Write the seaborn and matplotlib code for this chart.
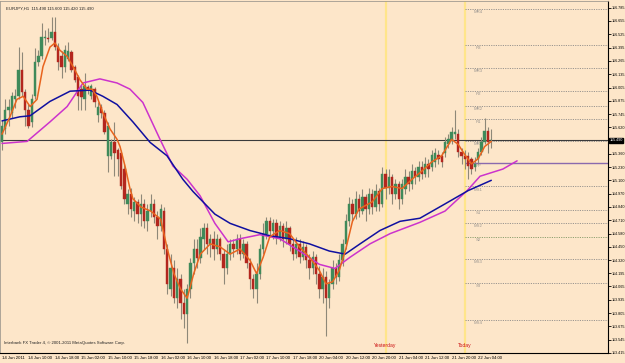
import numpy as np
import pandas as pd
import matplotlib
matplotlib.use('Agg')
import matplotlib.pyplot as plt
import matplotlib.transforms as mtransforms
import seaborn as sns

# EURJPY H1 candles
opens = [115.47, 115.60, 115.79, 115.76, 115.89, 115.92, 116.18, 115.96, 115.79, 115.67,
         115.92, 116.25, 116.31, 116.49, 116.49, 116.49, 116.55, 116.40, 116.31, 116.21,
         116.28, 116.35, 116.21, 116.11, 115.99, 115.89, 116.01, 115.92, 115.99, 115.74,
         115.82, 115.76, 115.34, 115.34, 115.47, 115.40, 115.37, 115.21, 114.87, 114.97,
         114.80, 114.89, 114.77, 114.87, 114.70, 114.80, 114.87, 114.74, 114.65, 114.80,
         114.43, 114.04, 114.24, 113.95, 114.14, 113.90, 113.80, 114.04, 114.29, 114.43,
         114.34, 114.53, 114.63, 114.48, 114.53, 114.43, 114.53, 114.38, 114.24, 114.38,
         114.48, 114.43, 114.53, 114.38, 114.48, 114.29, 114.14, 114.04, 114.19, 114.43,
         114.58, 114.70, 114.61, 114.68, 114.55, 114.65, 114.53, 114.63, 114.48, 114.38,
         114.48, 114.35, 114.45, 114.32, 114.24, 114.35, 114.19, 114.04, 114.16, 113.95,
         114.09, 114.24, 114.16, 114.32, 114.48, 114.70, 114.87, 114.77, 114.92, 114.80,
         114.94, 114.82, 114.97, 114.84, 115.00, 114.87, 115.16, 115.03, 115.13, 114.97,
         115.06, 114.92, 115.02, 115.13, 115.06, 115.19, 115.13, 115.23, 115.16, 115.26,
         115.23, 115.28, 115.35, 115.34, 115.37, 115.45, 115.48, 115.55, 115.55, 115.38,
         115.34, 115.34, 115.31, 115.23, 115.31, 115.38, 115.47, 115.58, 115.49]
closes = [115.63, 115.79, 115.82, 115.92, 115.92, 116.18, 115.96, 115.79, 115.63, 115.89,
          116.25, 116.31, 116.50, 116.50, 116.48, 116.55, 116.40, 116.25, 116.21, 116.37,
          116.36, 116.18, 116.08, 115.92, 115.91, 116.02, 115.99, 116.02, 115.86, 115.82,
          115.76, 115.57, 115.63, 115.47, 115.37, 115.31, 115.04, 114.92, 114.97, 114.82,
          114.89, 114.77, 114.87, 114.70, 114.80, 114.87, 114.74, 114.65, 114.82, 114.43,
          114.09, 114.24, 113.95, 114.14, 113.90, 113.80, 114.04, 114.29, 114.43, 114.34,
          114.55, 114.63, 114.48, 114.53, 114.43, 114.53, 114.38, 114.24, 114.38, 114.48,
          114.43, 114.53, 114.38, 114.48, 114.29, 114.14, 114.04, 114.19, 114.43, 114.58,
          114.70, 114.61, 114.68, 114.55, 114.65, 114.53, 114.63, 114.48, 114.38, 114.48,
          114.35, 114.45, 114.32, 114.24, 114.35, 114.19, 114.04, 114.16, 113.95, 114.09,
          114.24, 114.16, 114.32, 114.48, 114.70, 114.87, 114.77, 114.92, 114.80, 114.94,
          114.82, 114.97, 114.84, 115.00, 114.87, 115.16, 115.03, 115.13, 114.97, 115.06,
          114.92, 115.06, 115.13, 115.06, 115.19, 115.13, 115.23, 115.16, 115.26, 115.21,
          115.35, 115.37, 115.31, 115.28, 115.47, 115.50, 115.57, 115.57, 115.38, 115.34,
          115.31, 115.24, 115.21, 115.26, 115.38, 115.47, 115.58, 115.47, 115.49]
highs = [115.69, 115.89, 115.89, 115.96, 115.99, 116.40, 116.35, 115.99, 115.84, 115.94,
         116.39, 116.37, 116.64, 116.57, 116.59, 116.69, 116.69, 116.44, 116.36, 116.42,
         116.45, 116.37, 116.23, 116.13, 116.03, 116.15, 116.03, 116.04, 116.01, 115.86,
         115.84, 115.79, 115.67, 115.50, 115.67, 115.42, 115.40, 115.26, 115.02, 115.03,
         114.94, 114.92, 114.97, 114.92, 114.87, 114.97, 114.92, 114.80, 114.87, 114.84,
         114.48, 114.38, 114.32, 114.24, 114.19, 114.04, 114.09, 114.34, 114.53, 114.53,
         114.63, 114.68, 114.68, 114.58, 114.61, 114.58, 114.55, 114.43, 114.48, 114.53,
         114.53, 114.58, 114.58, 114.53, 114.51, 114.34, 114.19, 114.29, 114.48, 114.68,
         114.74, 114.74, 114.72, 114.72, 114.70, 114.68, 114.70, 114.65, 114.53, 114.55,
         114.53, 114.51, 114.48, 114.38, 114.41, 114.38, 114.26, 114.24, 114.22, 114.14,
         114.32, 114.29, 114.38, 114.53, 114.77, 114.94, 114.92, 115.00, 114.97, 115.02,
         114.97, 115.03, 115.02, 115.06, 115.03, 115.23, 115.21, 115.21, 115.16, 115.11,
         115.09, 115.11, 115.21, 115.19, 115.26, 115.23, 115.29, 115.29, 115.33, 115.31,
         115.40, 115.42, 115.40, 115.38, 115.52, 115.55, 115.62, 115.79, 115.60, 115.42,
         115.40, 115.38, 115.33, 115.33, 115.42, 115.52, 115.71, 115.62, 115.60]
lows = [115.40, 115.55, 115.63, 115.71, 115.81, 115.89, 115.92, 115.63, 115.61, 115.62,
        115.89, 116.22, 116.28, 116.42, 116.45, 116.47, 116.37, 116.18, 116.10, 116.16,
        116.26, 116.16, 116.06, 115.79, 115.79, 115.79, 115.94, 115.89, 115.82, 115.67,
        115.71, 115.55, 115.18, 115.31, 115.14, 115.14, 115.02, 114.87, 114.77, 114.74,
        114.70, 114.68, 114.65, 114.63, 114.61, 114.74, 114.68, 114.53, 114.61, 114.38,
        113.99, 113.97, 113.90, 113.85, 113.75, 113.66, 113.51, 113.95, 114.19, 114.24,
        114.29, 114.43, 114.38, 114.35, 114.32, 114.38, 114.32, 114.09, 114.19, 114.32,
        114.35, 114.38, 114.32, 114.34, 114.24, 114.04, 113.95, 113.90, 114.14, 114.38,
        114.53, 114.55, 114.53, 114.48, 114.51, 114.45, 114.48, 114.41, 114.32, 114.34,
        114.29, 114.32, 114.24, 114.14, 114.19, 114.09, 113.95, 113.90, 113.58, 113.85,
        114.04, 114.09, 114.12, 114.26, 114.43, 114.65, 114.70, 114.72, 114.74, 114.77,
        114.70, 114.77, 114.77, 114.80, 114.80, 114.84, 114.92, 114.97, 114.87, 114.92,
        114.82, 114.87, 114.97, 115.00, 115.02, 115.06, 115.09, 115.11, 115.13, 115.13,
        115.19, 115.23, 115.26, 115.23, 115.33, 115.42, 115.45, 115.50, 115.33, 115.26,
        115.21, 115.11, 115.16, 115.19, 115.26, 115.35, 115.45, 115.37, 115.42]

# moving averages (bar index, price)
ma_fast_x = [0, 2.4, 4.5, 6.4, 8.5, 10.6, 11.5, 12.4, 14.5, 16, 17.5, 19.7, 21.5, 23.6, 25.7,
             27.2, 28.7, 30.5, 32.7, 34.8, 35.7, 37.2, 38.7, 39.6, 42, 45, 48, 50, 52, 54,
             56, 58, 60, 63, 66, 69, 72, 75, 77, 79, 81, 84, 87, 90, 93, 96, 98, 100, 102,
             104, 106, 108, 112, 115, 118, 121, 124, 127, 130, 133, 136, 138, 140, 142, 144,
             146, 148]
ma_fast_y = [115.55, 115.72, 115.89, 115.92, 115.82, 115.89, 116.05, 116.21, 116.40, 116.44,
             116.37, 116.31, 116.21, 116.08, 115.99, 115.99, 115.92, 115.76, 115.60, 115.50,
             115.43, 115.24, 115.02, 114.92, 114.84, 114.80, 114.72, 114.43, 114.19, 114.04,
             113.95, 114.19, 114.38, 114.48, 114.45, 114.38, 114.43, 114.32, 114.19, 114.35,
             114.55, 114.61, 114.58, 114.45, 114.35, 114.22, 114.09, 114.11, 114.22, 114.43,
             114.70, 114.82, 114.89, 115.02, 115.04, 115.02, 115.11, 115.19, 115.28, 115.34,
             115.50, 115.45, 115.35, 115.26, 115.31, 115.43, 115.48]
ma_mid_x = [0, 5.4, 8.5, 14.5, 20.6, 26.6, 30.5, 34.8, 39.6, 44.8, 49.9, 54.7, 57.8, 64.4,
            69, 75, 81, 87, 93, 99, 103.8, 108.3, 114.3, 120.4, 126.4, 134, 141, 148]
ma_mid_y = [115.68, 115.72, 115.73, 115.87, 115.97, 115.98, 115.92, 115.84, 115.67, 115.47,
            115.34, 115.11, 114.99, 114.77, 114.68, 114.61, 114.56, 114.53, 114.48, 114.41,
            114.38, 114.48, 114.61, 114.70, 114.73, 114.87, 115.00, 115.10]
ma_slow_x = [0, 7.6, 14.5, 19.7, 24.5, 29.6, 34.8, 38.7, 42.6, 47.8, 51.7, 56, 59.9, 64.4,
             68.4, 72, 78, 84, 90, 96, 100.7, 105.3, 111.3, 117.4, 126.4, 134, 140.7, 144.6,
             151.5, 155.8]
ma_slow_y = [115.46, 115.48, 115.67, 115.82, 116.05, 116.09, 116.05, 115.99, 115.86, 115.50,
             115.24, 115.11, 114.95, 114.68, 114.50, 114.53, 114.57, 114.53, 114.41, 114.28,
             114.24, 114.35, 114.48, 114.58, 114.69, 114.80, 115.00, 115.14, 115.21, 115.29]

# daily pivot levels
pivot_names = ['MR4', 'R3', 'MR3', 'R2', 'MR2', 'R1', 'MR1', 'PP',
               'MS1', 'S1', 'MS2', 'S2', 'MS3', 'S3', 'MS4']
pivot_levels = [116.77, 116.42, 116.20, 115.97, 115.83, 115.70, 115.48, 115.27,
                115.04, 114.81, 114.68, 114.55, 114.33, 114.10, 113.74]

price_ticks = [116.785, 116.655, 116.525, 116.395, 116.265, 116.135, 116.005, 115.875,
               115.745, 115.620, 115.360, 115.230, 115.100, 114.970, 114.840, 114.710,
               114.580, 114.450, 114.320, 114.195, 114.065, 113.935, 113.805, 113.675,
               113.545, 113.415]
time_labels = ['14 Jun 2011', '14 Jun 10:00', '14 Jun 18:00', '15 Jun 02:00', '15 Jun 10:00',
               '15 Jun 18:00', '16 Jun 02:00', '16 Jun 10:00', '16 Jun 18:00', '17 Jun 02:00',
               '17 Jun 10:00', '17 Jun 18:00', '20 Jun 04:00', '20 Jun 12:00', '20 Jun 20:00',
               '21 Jun 04:00', '21 Jun 12:00', '21 Jun 20:00', '22 Jun 04:00']
last_price = 115.49
yesterday_bar = 116
today_bar = 140

bg = '#FDE6C9'
bull = '#3F8A5A'
bear = '#B3261E'
wick = '#8E8878'
fs = 3.1
fs_y = 2.7

sns.set_style('white')
plt.rcParams['font.family'] = ['Liberation Sans', 'DejaVu Sans']

fig = plt.figure(figsize=(6.25, 3.63), dpi=100)
fig.patch.set_facecolor(bg)
ax = fig.add_axes([0, 10 / 363, 608 / 625, 352 / 363])
ax.set_facecolor(bg)

bars = np.arange(len(opens))
o = np.array(opens)
c = np.array(closes)

# day separators
for b in [yesterday_bar, today_bar]:
    ax.axvline(b, color='#FFE58A', lw=1.6, zorder=1)

# pivot lines
xmax = 183.3
for name, lvl in zip(pivot_names, pivot_levels):
    if name == 'PP':
        ax.hlines(lvl, today_bar, xmax, color='#8A6AAE', lw=1.0, zorder=2)
    else:
        col = '#8FA070' if name == 'S2' else '#9A9590'
        ax.hlines(lvl, today_bar, xmax, color=col, lw=0.7, linestyles=(0, (1.2, 1.2)), zorder=2)
    ax.text(144, lvl - 0.03, name, fontsize=fs, color='#9A9590', ha='center', va='center', zorder=2)

# bid line
ax.axhline(last_price, color='#3A3A3A', lw=0.8, zorder=2)

# candles
ax.vlines(bars, lows, highs, color=wick, lw=0.8, zorder=3)
up = c >= o
ax.bar(bars[up], np.maximum(c[up] - o[up], 0.006), bottom=o[up], width=0.72,
       color=bull, edgecolor=bull, lw=0.3, zorder=4)
ax.bar(bars[~up], np.maximum(o[~up] - c[~up], 0.006), bottom=c[~up], width=0.72,
       color=bear, edgecolor=bear, lw=0.3, zorder=4)

# moving averages
ma = pd.concat([
    pd.DataFrame({'bar': ma_slow_x, 'price': ma_slow_y, 'ma': 'slow'}),
    pd.DataFrame({'bar': ma_mid_x, 'price': ma_mid_y, 'ma': 'mid'}),
    pd.DataFrame({'bar': ma_fast_x, 'price': ma_fast_y, 'ma': 'fast'}),
])
sns.lineplot(data=ma, x='bar', y='price', hue='ma', sort=False,
             palette={'slow': '#CC33CC', 'mid': '#1010A0', 'fast': '#E8641E'},
             lw=1.1, legend=False, ax=ax, zorder=5)

ax.set_xlim(-0.605, xmax)
ax.set_ylim(113.43, 116.85)

# axes / ticks in terminal style
ax.yaxis.tick_right()
ax.set_yticks(price_ticks)
ax.set_yticklabels([f'{t:.3f}' for t in price_ticks])
ax.set_xticks(np.arange(len(time_labels)) * 8)
ax.set_xticklabels(time_labels, ha='left')
ax.tick_params(axis='both', direction='out', length=2, width=0.6, pad=0.5, colors='black')
ax.tick_params(axis='x', labelsize=fs, pad=0.3)
ax.tick_params(axis='y', labelsize=fs_y)
ax.set_xlabel('')
ax.set_ylabel('')
for s in ['right', 'bottom']:
    ax.spines[s].set_color('black')
    ax.spines[s].set_linewidth(0.8)
for s in ['left', 'top']:
    ax.spines[s].set_color('#A09A90')
    ax.spines[s].set_linewidth(0.6)

# current price box on the scale
tr = mtransforms.blended_transform_factory(ax.transAxes, ax.transData)
ax.text(1.002, last_price, f'{last_price:.3f}', transform=tr, fontsize=fs_y, color='white',
        ha='left', va='center', bbox=dict(facecolor='black', edgecolor='black', pad=0.3),
        zorder=10, clip_on=False)

ax.text(0.01, 0.985, 'EURJPY,H1  115.490 115.600 115.420 115.490', transform=ax.transAxes,
        fontsize=fs, color='#222222', ha='left', va='top')
ax.text(0.006, 0.022, 'Interbank FX Trader 4, \u00a9 2001-2011 MetaQuotes Software Corp.',
        transform=ax.transAxes, fontsize=fs, color='#222222', ha='left', va='bottom')
ax.text(yesterday_bar, 113.49, 'Yesterday', fontsize=3.6, color='#CC1010', ha='center', va='center')
ax.text(today_bar, 113.49, 'Today', fontsize=3.6, color='#CC1010', ha='center', va='center')

fig.savefig('out.png', dpi=100, facecolor=bg)
